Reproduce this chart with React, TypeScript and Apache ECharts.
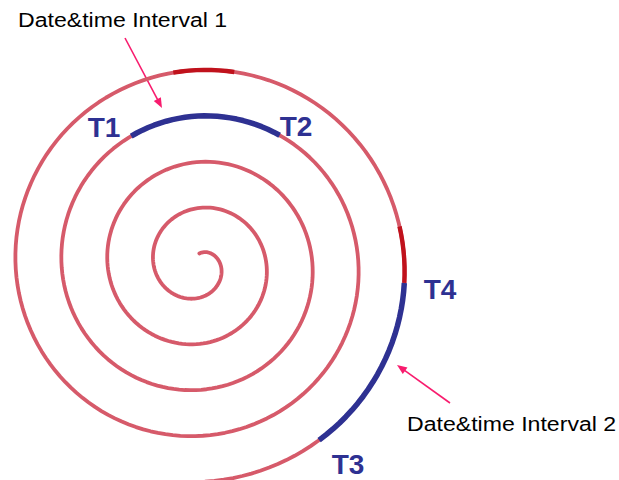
import { useEffect, useRef } from 'react';
import * as echarts from 'echarts';

// Spiral time axis: one turn of the spiral = one period; values are in turns.
const spiralTurnStart = 0.24;
const spiralTurnEnd = 4.73;
const spiralTurnMax = 5;

// Highlighted date&time intervals (in turns along the spiral)
const intervalNames = ['Date&time Interval 1', 'Date&time Interval 2'];
const intervalStartTurns = [3.151, 4.492];
const intervalEndTurns = [3.317, 4.632];

// darker red stretches of the spiral
const shadeStartTurns = [4.207, 4.448];
const shadeEndTurns = [4.257, 4.492];

const endpointLabels = ['T1', 'T2', 'T4', 'T3'];

function turnsToPolar(a: number, b: number, step = 1 / 144): number[][] {
  const pts: number[][] = [];
  const n = Math.max(1, Math.ceil((b - a) / step));
  for (let i = 0; i <= n; i++) {
    const t = a + ((b - a) * i) / n;
    const frac = t - Math.floor(t);
    pts.push([t, frac * 360]);
  }
  return pts;
}

function arrow(x1: number, y1: number, x2: number, y2: number, color: string) {
  const dx = x2 - x1;
  const dy = y2 - y1;
  const len = Math.sqrt(dx * dx + dy * dy);
  const ux = dx / len;
  const uy = dy / len;
  const hl = 10;
  const hw = 4;
  const bx = x2 - ux * hl;
  const by = y2 - uy * hl;
  return [
    {
      type: 'line',
      shape: { x1, y1, x2: bx + ux * 2, y2: by + uy * 2 },
      style: { stroke: color, lineWidth: 1.6 },
      silent: true,
    },
    {
      type: 'polygon',
      shape: {
        points: [
          [x2, y2],
          [bx - uy * hw, by + ux * hw],
          [bx + uy * hw, by - ux * hw],
        ],
      },
      style: { fill: color },
      silent: true,
    },
  ];
}

export default function App() {
  const ref = useRef<HTMLDivElement>(null);
  useEffect(() => {
    if (!ref.current) return;
    const chart = echarts.init(ref.current, undefined, { renderer: 'svg' });
    const blue = '#2e3192';
    const pink = '#f81c6e';
    const series: any[] = [
      {
        type: 'line',
        name: 'spiral',
        coordinateSystem: 'polar',
        data: turnsToPolar(spiralTurnStart, spiralTurnEnd),
        symbol: 'none',
        silent: true,
        lineStyle: { color: '#d65a6a', width: 3.8, cap: 'round', join: 'round' },
        z: 2,
      },
    ];
    shadeStartTurns.forEach((s, i) => {
      series.push({
        type: 'line',
        coordinateSystem: 'polar',
        data: turnsToPolar(s, shadeEndTurns[i]),
        symbol: 'none',
        silent: true,
        lineStyle: { color: '#c0121c', width: 4.4, cap: 'butt' },
        z: 3,
      });
    });
    intervalStartTurns.forEach((s, i) => {
      series.push({
        type: 'line',
        name: intervalNames[i],
        coordinateSystem: 'polar',
        data: turnsToPolar(s, intervalEndTurns[i]),
        symbol: 'none',
        silent: true,
        lineStyle: { color: blue, width: 5.5, cap: 'butt', join: 'round' },
        z: 4,
      });
    });

    const labelPos = [
      [104, 127],
      [296, 126],
      [440, 289],
      [348, 464],
    ];
    const graphic: any[] = [
      {
        type: 'text',
        x: 18,
        y: 20,
        scaleX: 1.1,
        style: {
          text: intervalNames[0],
          fill: '#000',
          font: '21px "Liberation Sans", Arial, sans-serif',
          textAlign: 'left',
          textVerticalAlign: 'middle',
        },
        silent: true,
      },
      {
        type: 'text',
        x: 407,
        y: 424,
        scaleX: 1.1,
        style: {
          text: intervalNames[1],
          fill: '#000',
          font: '21px "Liberation Sans", Arial, sans-serif',
          textAlign: 'left',
          textVerticalAlign: 'middle',
        },
        silent: true,
      },
      ...endpointLabels.map((t, i) => ({
        type: 'text',
        x: labelPos[i][0],
        y: labelPos[i][1],
        style: {
          text: t,
          fill: blue,
          font: 'bold 28px "Liberation Sans", Arial, sans-serif',
          textAlign: 'center',
          textVerticalAlign: 'middle',
        },
        silent: true,
      })),
      ...arrow(125, 38, 162, 108, pink),
      ...arrow(450, 403, 397, 365, pink),
    ];

    chart.setOption({
      animation: false,
      backgroundColor: '#ffffff',
      polar: { center: [198.5, 264.5], radius: 230 },
      angleAxis: {
        type: 'value',
        min: 0,
        max: 360,
        startAngle: 172,
        clockwise: true,
        show: false,
        axisLine: { show: false },
        axisTick: { show: false },
        axisLabel: { show: false },
        splitLine: { show: false },
      },
      radiusAxis: {
        type: 'value',
        min: 0,
        max: spiralTurnMax,
        show: false,
        axisLine: { show: false },
        axisTick: { show: false },
        axisLabel: { show: false },
        splitLine: { show: false },
      },
      series,
      graphic,
    });
    return () => chart.dispose();
  }, []);
  return (
    <div
      ref={ref}
      style={{ position: 'absolute', left: 0, top: 0, width: 619, height: 480 }}
    />
  );
}
